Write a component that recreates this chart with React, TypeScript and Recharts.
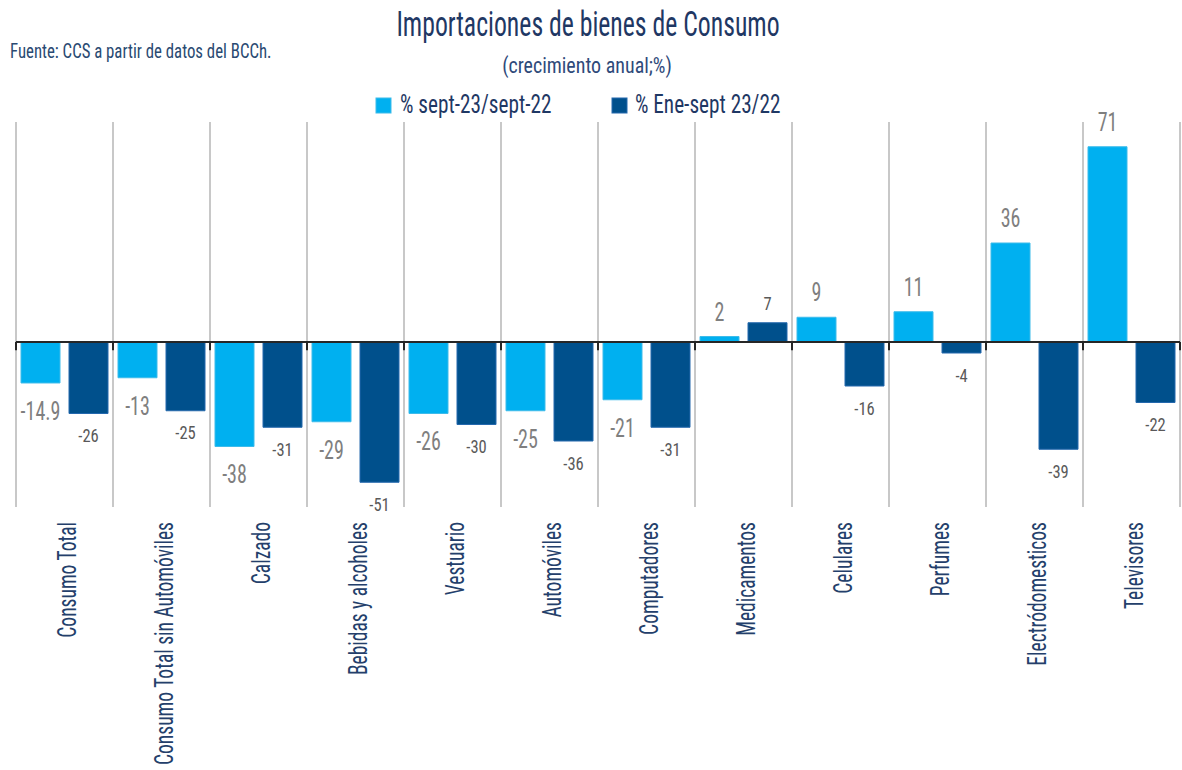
import React from 'react';
import { BarChart, Bar, XAxis, YAxis, ReferenceLine, LabelList } from 'recharts';

const categories = [
  'Consumo Total',
  'Consumo Total sin Automóviles',
  'Calzado',
  'Bebidas y alcoholes',
  'Vestuario',
  'Automóviles',
  'Computadores',
  'Medicamentos',
  'Celulares',
  'Perfumes',
  'Electródomesticos',
  'Televisores',
];
const septValues = [-14.9, -13, -38, -29, -26, -25, -21, 2, 9, 11, 36, 71];
const eneSeptValues = [-26, -25, -31, -51, -30, -36, -31, 7, -16, -4, -39, -22];
const seriesNames = ['% sept-23/sept-22', '% Ene-sept 23/22'];
const seriesColors = ['#00b0f0', '#00508c'];
const seriesStrokes = ['#3dbbea', '#2468ad'];
const yDomain = [-60, 80];

const data = categories.map((c, i) => ({ name: c, sept: septValues[i], ene: eneSeptValues[i] }));
const boundaries: { cat: string; pos: 'start' | 'end' }[] = [
  ...categories.map((c) => ({ cat: c, pos: 'start' as const })),
  { cat: categories[categories.length - 1], pos: 'end' as const },
];

const FONT = "'Roboto Condensed', 'Liberation Sans Narrow', 'DejaVu Sans Condensed', Roboto, sans-serif";
const NAVY = '#1f3864';
const LABEL_NAVY = '#243f6b';

const makeLabel = (fontSize: number, sx: number, color: string, gapPos: number, gapNeg: number) => (props: any) => {
  const { x, y, width, height, value } = props;
  const top = Math.min(y, y + height);
  const bottom = Math.max(y, y + height);
  const cx = x + width / 2;
  const digit = fontSize * 0.711;
  const ty = value >= 0 ? top - gapPos : bottom + gapNeg + digit;
  return (
    <text
      transform={`translate(${cx},${ty}) scale(${sx},1)`}
      x={0}
      y={0}
      textAnchor="middle"
      fill={color}
      fontSize={fontSize}
      fontFamily={FONT}
    >
      {value}
    </text>
  );
};

const CatTick = (props: any) => {
  const { x, y, payload } = props;
  return (
    <text
      transform={`translate(${x + 11.5},${y + 7}) rotate(-90) scale(0.75,1)`}
      x={0}
      y={0}
      textAnchor="end"
      fill={LABEL_NAVY}
      fontSize={26}
      fontFamily={FONT}
    >
      {payload.value}
    </text>
  );
};

export default function App() {
  return (
    <div style={{ position: 'absolute', left: 0, top: 0, width: 1182, height: 770, background: '#fff' }}>
      <div style={{ position: 'absolute', left: 0, top: 0 }}>
        <BarChart
          width={1182}
          height={770}
          data={data}
          margin={{ top: 122, right: 2, left: 16, bottom: 0 }}
          barCategoryGap={5}
          barGap={9}
        >
          <XAxis dataKey="name" height={263} axisLine={false} tickLine={false} tick={<CatTick />} interval={0} />
          <YAxis domain={yDomain} hide allowDataOverflow />
          {boundaries.map((b, i) => (
            <ReferenceLine key={'g' + i} x={b.cat} position={b.pos} stroke="#c8c8c8" strokeWidth={2} />
          ))}
          <Bar dataKey="sept" fill={seriesColors[0]} stroke={seriesStrokes[0]} strokeWidth={1} isAnimationActive={false}>
            <LabelList dataKey="sept" content={makeLabel(25, 0.8, '#7f7f7f', 16, 19)} />
          </Bar>
          <Bar dataKey="ene" fill={seriesColors[1]} stroke={seriesStrokes[1]} strokeWidth={1} isAnimationActive={false}>
            <LabelList dataKey="ene" content={makeLabel(19, 0.87, '#595959', 13, 15)} />
          </Bar>
          <ReferenceLine y={0} stroke="#262626" strokeWidth={2} />
          {boundaries.map((b, i) => (
            <ReferenceLine
              key={'t' + i}
              position={b.pos}
              segment={[{ x: b.cat, y: 0 }, { x: b.cat, y: -3 }]}
              stroke="#262626"
              strokeWidth={2}
            />
          ))}
        </BarChart>
      </div>
      <svg width={1182} height={130} style={{ position: 'absolute', left: 0, top: 0 }}>
        <text transform="translate(588,36) scale(0.735,1)" x={0} y={0} textAnchor="middle" fontSize={35} fill={NAVY} fontFamily={FONT}>
          Importaciones de bienes de Consumo
        </text>
        <text transform="translate(587,73) scale(0.93,1)" x={0} y={0} textAnchor="middle" fontSize={21.5} fill="#2f4a7a" fontFamily={FONT}>
          (crecimiento anual;%)
        </text>
        <text transform="translate(10,58) scale(0.8,1)" x={0} y={0} fontSize={21} fill="#2a4a72" fontFamily={FONT}>
          Fuente: CCS a partir de datos del BCCh.
        </text>
        {seriesNames.map((n, i) => (
          <g key={n}>
            <rect x={i === 0 ? 376 : 612} y={98} width={15} height={15} fill={seriesColors[i]} stroke={seriesStrokes[i]} strokeWidth={1} />
            <text transform={`translate(${i === 0 ? 400 : 635},113) scale(0.85,1)`} x={0} y={0} fontSize={25} fill={NAVY} fontFamily={FONT}>
              {n}
            </text>
          </g>
        ))}
      </svg>
    </div>
  );
}
